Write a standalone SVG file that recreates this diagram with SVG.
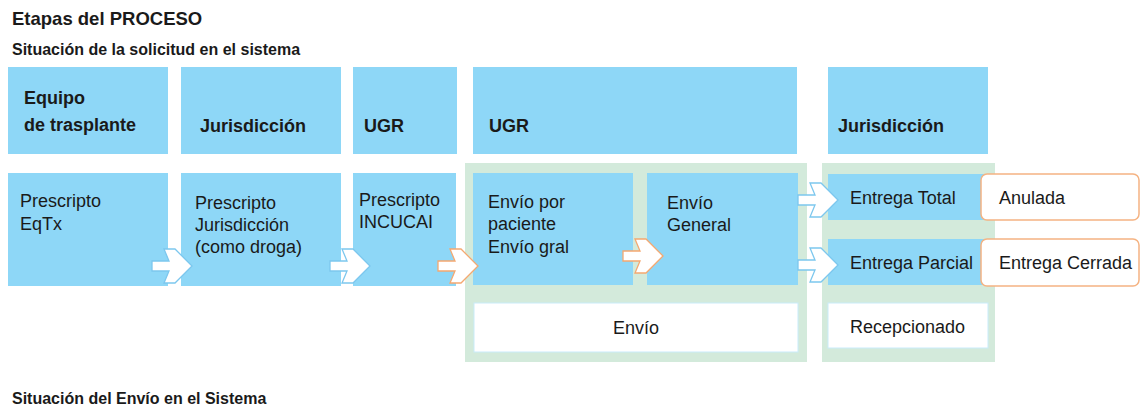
<svg xmlns="http://www.w3.org/2000/svg" width="1140" height="408" viewBox="0 0 1140 408">
<style>
.t{font-family:"Liberation Sans",Arial,sans-serif;fill:#1a1a1a}
.b{font-weight:bold}
.blue{fill:#8ED7F7}
.green{fill:#D3EADB}
.white{fill:#ffffff;stroke:#c9ebfa;stroke-width:1}
.tag{fill:#ffffff;stroke:#F5B382;stroke-width:1.5}
.ab{fill:#ffffff;stroke:#7cc7ee;stroke-width:1.3;stroke-linejoin:miter}
.ao{fill:#ffffff;stroke:#F5A870;stroke-width:1.3;stroke-linejoin:miter}
</style>
<defs>
<path id="arr" d="M0,-5 L17,-5 L12,-17 L23,-17 L40,0 L23,17 L12,17 L17,5 L0,5 Z"/>
</defs>
<rect width="1140" height="408" fill="#ffffff"/>
<text class="t b" x="12" y="25" font-size="18.5">Etapas del PROCESO</text>
<text class="t b" x="12" y="55" font-size="16">Situación de la solicitud en el sistema</text>
<text class="t b" x="12" y="404" font-size="16">Situación del Envío en el Sistema</text>

<g id="containers">
<rect class="green" x="465" y="163" width="342" height="199"/>
<rect class="green" x="822" y="163" width="173" height="199"/>
</g>

<g id="h1"><rect class="blue" x="8" y="67" width="160" height="87"/>
<text class="t b" font-size="18"><tspan x="24" y="104">Equipo</tspan><tspan x="24" y="131">de trasplante</tspan></text></g>
<g id="h2"><rect class="blue" x="181" y="67" width="160" height="87"/>
<text class="t b" x="200" y="132" font-size="18">Jurisdicción</text></g>
<g id="h3"><rect class="blue" x="353" y="67" width="104" height="87"/>
<text class="t b" x="364" y="132" font-size="18">UGR</text></g>
<g id="h4"><rect class="blue" x="473" y="67" width="324" height="87"/>
<text class="t b" x="489" y="132" font-size="18">UGR</text></g>
<g id="h5"><rect class="blue" x="828" y="67" width="160" height="87"/>
<text class="t b" x="838" y="132" font-size="18">Jurisdicción</text></g>

<g id="s1"><rect class="blue" x="8" y="173" width="160" height="113"/>
<text class="t" font-size="18"><tspan x="20" y="207">Prescripto</tspan><tspan x="20" y="230">EqTx</tspan></text></g>
<g id="s2"><rect class="blue" x="181" y="173" width="160" height="113"/>
<text class="t" font-size="18"><tspan x="195" y="209">Prescripto</tspan><tspan x="195" y="231">Jurisdicción</tspan><tspan x="195" y="253">(como droga)</tspan></text></g>
<g id="s3"><rect class="blue" x="353" y="173" width="103" height="113"/>
<text class="t" font-size="18"><tspan x="359" y="206">Prescripto</tspan><tspan x="359" y="228">INCUCAI</tspan></text></g>
<g id="s4"><rect class="blue" x="473" y="173" width="160" height="112"/>
<text class="t" font-size="18"><tspan x="488" y="208">Envío por</tspan><tspan x="488" y="230">paciente</tspan><tspan x="488" y="253">Envío gral</tspan></text></g>
<g id="s5"><rect class="blue" x="647" y="173" width="151" height="112"/>
<text class="t" font-size="18"><tspan x="667" y="209">Envío</tspan><tspan x="667" y="231">General</tspan></text></g>
<g id="envio"><rect class="white" x="474" y="303" width="324" height="49"/>
<text class="t" x="636" y="334" font-size="18" text-anchor="middle">Envío</text></g>
<g id="etotal"><rect class="blue" x="828" y="174" width="160" height="46"/>
<text class="t" x="850" y="204" font-size="18">Entrega Total</text></g>
<g id="eparcial"><rect class="blue" x="828" y="239" width="160" height="46"/>
<text class="t" x="850" y="269" font-size="18">Entrega Parcial</text></g>
<g id="recep"><rect class="white" x="828" y="303" width="160" height="45"/>
<text class="t" x="850" y="333" font-size="18">Recepcionado</text></g>
<g id="anulada"><rect class="tag" x="981" y="174" width="158" height="46" rx="6"/>
<text class="t" x="999" y="204" font-size="18">Anulada</text></g>
<g id="cerrada"><rect class="tag" x="981" y="239" width="158" height="47" rx="6"/>
<text class="t" x="999" y="269" font-size="18">Entrega Cerrada</text></g>

<g id="connectors">
<use href="#arr" class="ab" transform="translate(152,266)"/>
<use href="#arr" class="ab" transform="translate(330,266)"/>
<use href="#arr" class="ao" transform="translate(438,266)"/>
<use href="#arr" class="ao" transform="translate(623,256)"/>
<use href="#arr" class="ab" transform="translate(798,200)"/>
<use href="#arr" class="ab" transform="translate(798,265)"/>
</g>
</svg>
